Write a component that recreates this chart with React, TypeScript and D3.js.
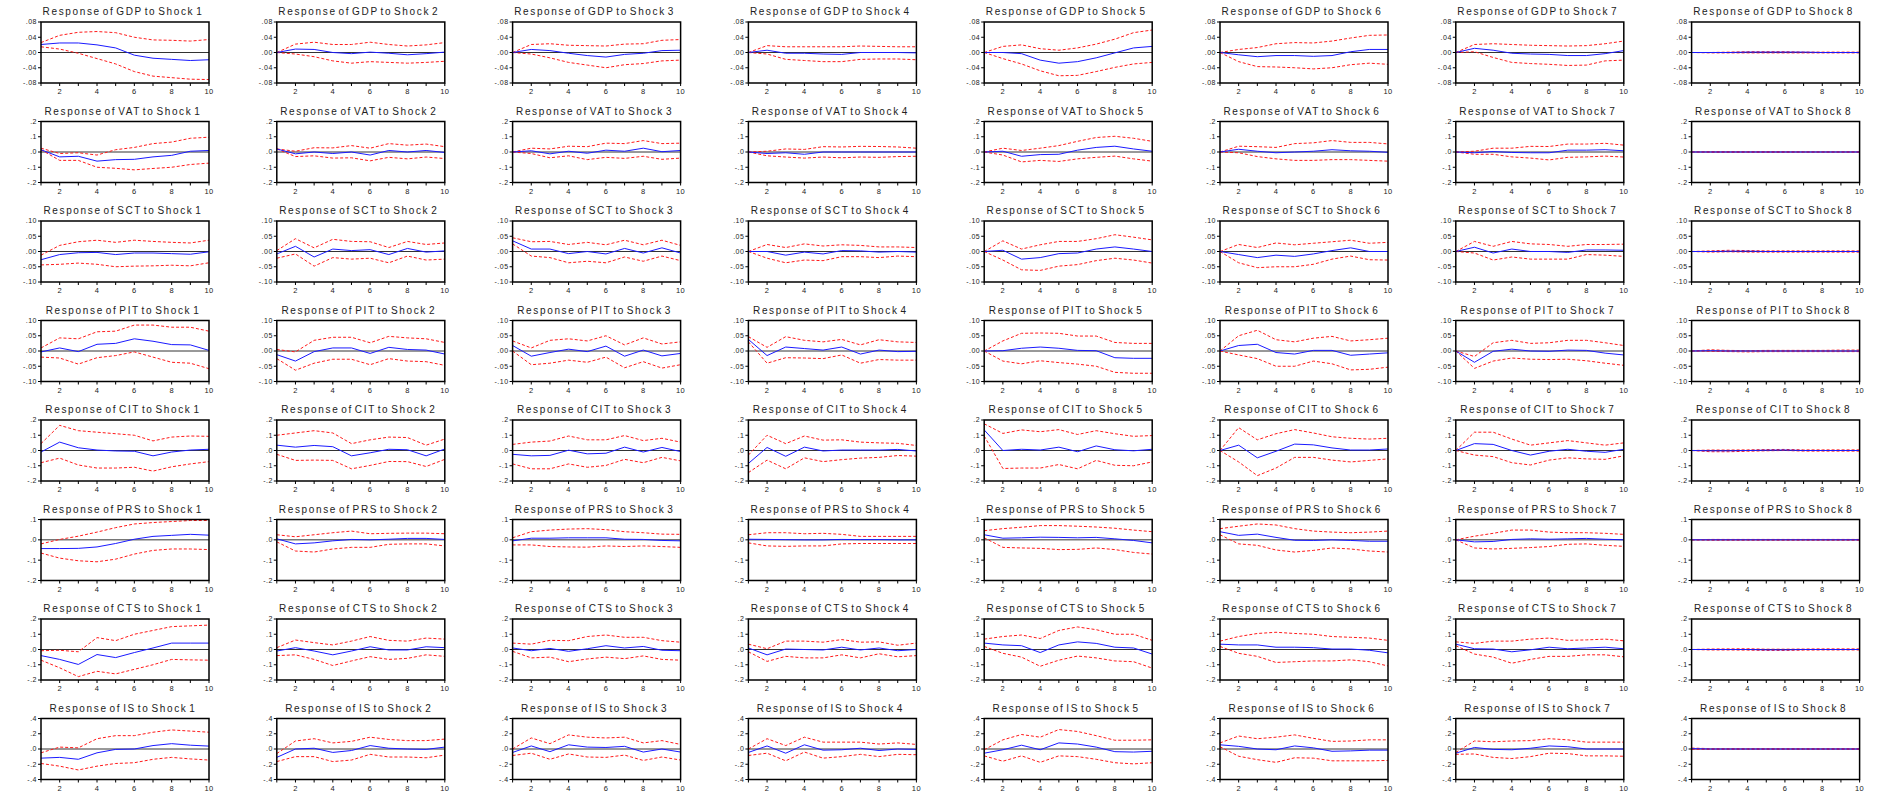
import * as d3 from 'd3';

// impulse horizon
const periods = [1, 2, 3, 4, 5, 6, 7, 8, 9, 10];
const variables = ['GDP', 'VAT', 'SCT', 'PIT', 'CIT', 'PRS', 'CTS', 'IS'];
const shocks = ['Shock 1', 'Shock 2', 'Shock 3', 'Shock 4', 'Shock 5', 'Shock 6', 'Shock 7', 'Shock 8'];

// y tick labels per row (values parsed from them)
const yTickLabels = [
  ['.08', '.04', '.00', '-.04', '-.08'],
  ['.2', '.1', '.0', '-.1', '-.2'],
  ['.10', '.05', '.00', '-.05', '-.10'],
  ['.10', '.05', '.00', '-.05', '-.10'],
  ['.2', '.1', '.0', '-.1', '-.2'],
  ['.1', '.0', '-.1', '-.2'],
  ['.2', '.1', '.0', '-.1', '-.2'],
  ['.4', '.2', '.0', '-.2', '-.4'],
];
const xTickLabels = ['2', '4', '6', '8', '10'];

// ---- GDP ----
const gdpResp = [
  [0.021, 0.025, 0.025, 0.02, 0.012, -0.007, -0.015, -0.018, -0.021, -0.019],
  [0, 0.009, 0.008, 0, -0.003, 0.001, -0.002, -0.006, -0.003, 0.001],
  [0, 0.008, 0.005, -0.002, -0.008, -0.012, -0.005, -0.002, 0.005, 0.006],
  [0, 0.006, -0.002, -0.002, -0.004, -0.005, 0, 0, 0, -0.001],
  [0, 0, -0.003, -0.02, -0.028, -0.024, -0.014, -0.001, 0.012, 0.016],
  [0, -0.006, -0.011, -0.008, -0.008, -0.01, -0.008, 0.002, 0.008, 0.008],
  [0, 0.011, 0.006, -0.002, -0.004, -0.005, -0.008, -0.008, -0.003, 0.005],
  [0, 0, 0, 0.001, 0.001, 0.001, 0.001, 0, 0, 0],
];
const gdpUpper = [
  [0.026, 0.045, 0.053, 0.055, 0.052, 0.04, 0.033, 0.032, 0.03, 0.034],
  [0, 0.022, 0.027, 0.021, 0.021, 0.027, 0.021, 0.017, 0.02, 0.026],
  [0, 0.021, 0.023, 0.019, 0.018, 0.017, 0.022, 0.023, 0.032, 0.034],
  [0, 0.018, 0.015, 0.015, 0.015, 0.015, 0.017, 0.016, 0.015, 0.015],
  [0, 0.016, 0.02, 0.01, 0.006, 0.012, 0.022, 0.035, 0.052, 0.059],
  [0, 0.008, 0.013, 0.023, 0.026, 0.025, 0.03, 0.038, 0.045, 0.046],
  [0, 0.021, 0.023, 0.021, 0.019, 0.018, 0.017, 0.018, 0.023, 0.03],
  [0, 0, 0.001, 0.002, 0.002, 0.002, 0.001, 0.001, 0.001, 0.001],
];
const gdpLower = [
  [0.015, 0.009, -0.002, -0.016, -0.03, -0.05, -0.062, -0.066, -0.07, -0.071],
  [0, -0.004, -0.011, -0.022, -0.028, -0.024, -0.026, -0.028, -0.026, -0.023],
  [0, -0.004, -0.014, -0.026, -0.033, -0.04, -0.032, -0.029, -0.022, -0.02],
  [0, -0.004, -0.018, -0.021, -0.024, -0.024, -0.018, -0.017, -0.017, -0.019],
  [0, -0.016, -0.03, -0.048, -0.061, -0.06, -0.05, -0.039, -0.03, -0.026],
  [0, -0.024, -0.037, -0.038, -0.04, -0.043, -0.04, -0.032, -0.028, -0.031],
  [0, 0.002, -0.013, -0.026, -0.029, -0.031, -0.034, -0.033, -0.022, -0.02],
  [0, -0.001, -0.001, -0.001, -0.001, -0.001, -0.001, -0.001, -0.001, -0.001],
];

// ---- VAT ----
const vatResp = [
  [0.015, -0.032, -0.028, -0.06, -0.05, -0.048, -0.032, -0.022, 0.005, 0.01],
  [0.02, -0.012, 0, -0.01, 0, -0.02, 0.01, 0, 0.01, -0.003],
  [0, 0.008, -0.012, 0.005, -0.008, 0.012, 0.005, 0.025, 0.002, 0.01],
  [0, -0.01, -0.005, -0.015, 0, 0, 0, 0, 0, 0],
  [0, 0.005, -0.028, -0.017, -0.015, 0.012, 0.03, 0.038, 0.02, 0.005],
  [0, 0.018, 0.005, -0.005, 0, 0.005, 0.015, 0.008, 0.005, -0.002],
  [0, -0.005, 0.003, -0.003, -0.005, -0.005, 0.012, 0.012, 0.015, 0.008],
  [0, 0, 0, 0, 0, 0, 0, 0, 0, 0],
];
const vatUpper = [
  [0.025, -0.01, -0.005, -0.02, 0.015, 0.03, 0.055, 0.065, 0.09, 0.097],
  [0.02, 0.005, 0.028, 0.027, 0.042, 0.025, 0.055, 0.045, 0.052, 0.035],
  [0, 0.025, 0.02, 0.038, 0.035, 0.058, 0.055, 0.075, 0.055, 0.058],
  [0, 0.005, 0.02, 0.017, 0.035, 0.033, 0.037, 0.036, 0.033, 0.025],
  [0, 0.025, 0.01, 0.025, 0.042, 0.07, 0.095, 0.103, 0.09, 0.07],
  [0, 0.038, 0.035, 0.03, 0.055, 0.06, 0.075, 0.063, 0.063, 0.053],
  [0, 0.005, 0.025, 0.025, 0.037, 0.036, 0.052, 0.052, 0.057, 0.045],
  [0, 0.003, 0.003, 0.003, 0.003, 0.003, 0.002, 0.002, 0.002, 0.002],
];
const vatLower = [
  [0.015, -0.055, -0.055, -0.1, -0.107, -0.117, -0.108, -0.1, -0.082, -0.073],
  [0.02, -0.03, -0.025, -0.04, -0.038, -0.058, -0.035, -0.045, -0.033, -0.043],
  [0, -0.01, -0.038, -0.025, -0.05, -0.035, -0.042, -0.028, -0.048, -0.04],
  [0, -0.025, -0.033, -0.04, -0.033, -0.038, -0.033, -0.035, -0.03, -0.028],
  [0, -0.02, -0.065, -0.055, -0.062, -0.045, -0.035, -0.027, -0.045, -0.06],
  [0, -0.005, -0.03, -0.045, -0.055, -0.055, -0.05, -0.05, -0.055, -0.06],
  [0, -0.015, -0.015, -0.032, -0.04, -0.052, -0.035, -0.032, -0.027, -0.033],
  [0, -0.003, -0.003, -0.003, -0.003, -0.003, -0.002, -0.002, -0.002, -0.002],
];

// ---- SCT ----
const sctResp = [
  [-0.027, -0.01, -0.004, -0.003, -0.01, -0.005, -0.005, -0.007, -0.009, -0.001],
  [-0.008, 0.017, -0.018, 0.008, 0.003, 0.006, -0.01, 0.01, -0.002, 0.002],
  [0.035, 0.008, 0.008, -0.007, 0, -0.008, 0.01, -0.005, 0.012, -0.005],
  [0, 0, -0.012, -0.002, -0.008, 0.003, 0.002, -0.002, 0, -0.002],
  [0, 0.004, -0.025, -0.02, -0.007, -0.005, 0.008, 0.015, 0.008, 0],
  [0, -0.01, -0.02, -0.012, -0.016, -0.008, 0.003, 0.012, 0, 0],
  [0, 0.014, -0.005, 0.008, 0, 0, -0.003, 0.005, 0.005, 0.004],
  [0, 0, 0.001, 0.001, 0, 0, 0, 0, 0, 0],
];
const sctUpper = [
  [-0.012, 0.02, 0.032, 0.037, 0.03, 0.037, 0.033, 0.03, 0.028, 0.037],
  [0.003, 0.042, 0.012, 0.04, 0.033, 0.032, 0.013, 0.033, 0.023, 0.028],
  [0.045, 0.032, 0.033, 0.023, 0.03, 0.022, 0.037, 0.022, 0.037, 0.02],
  [0, 0.023, 0.013, 0.025, 0.018, 0.022, 0.02, 0.015, 0.015, 0.013],
  [0, 0.035, 0.008, 0.022, 0.033, 0.033, 0.042, 0.055, 0.047, 0.038],
  [0, 0.023, 0.013, 0.028, 0.022, 0.027, 0.032, 0.037, 0.027, 0.03],
  [0, 0.033, 0.017, 0.033, 0.025, 0.023, 0.017, 0.023, 0.023, 0.024],
  [0, 0.002, 0.004, 0.003, 0.002, 0.002, 0.002, 0.002, 0.002, 0.002],
];
const sctLower = [
  [-0.044, -0.042, -0.038, -0.042, -0.05, -0.048, -0.047, -0.045, -0.047, -0.037],
  [-0.022, -0.008, -0.048, -0.02, -0.025, -0.022, -0.037, -0.015, -0.028, -0.025],
  [0.025, -0.015, -0.02, -0.037, -0.032, -0.037, -0.018, -0.032, -0.015, -0.03],
  [0, -0.022, -0.037, -0.028, -0.03, -0.017, -0.017, -0.02, -0.015, -0.017],
  [0, -0.028, -0.06, -0.062, -0.048, -0.043, -0.03, -0.022, -0.028, -0.038],
  [0, -0.037, -0.053, -0.05, -0.05, -0.042, -0.025, -0.015, -0.027, -0.028],
  [0, -0.005, -0.028, -0.018, -0.025, -0.025, -0.025, -0.01, -0.012, -0.016],
  [0, -0.002, -0.001, -0.002, -0.002, -0.002, -0.002, -0.002, -0.002, -0.002],
];

// ---- PIT ----
const pitResp = [
  [-0.003, 0.01, -0.002, 0.022, 0.025, 0.04, 0.032, 0.021, 0.02, 0.002],
  [-0.012, -0.033, -0.002, 0.01, 0.01, -0.008, 0.012, 0.005, 0.003, -0.01],
  [0.018, -0.017, -0.005, 0.006, -0.002, 0.016, -0.017, 0.003, -0.016, -0.008],
  [0.038, -0.015, 0.013, 0.008, 0.003, 0.013, -0.01, 0.003, -0.002, -0.001],
  [0, 0.001, 0.009, 0.013, 0.009, 0.002, 0.001, -0.022, -0.024, -0.024],
  [0, 0.018, 0.022, -0.005, -0.01, 0.002, 0.002, -0.014, -0.01, -0.006],
  [0, -0.037, -0.001, 0.006, 0, -0.001, 0.003, 0.002, -0.007, -0.013],
  [0, 0.001, 0, 0, 0, 0, 0, 0, 0, 0],
];
const pitUpper = [
  [0.01, 0.043, 0.04, 0.063, 0.065, 0.085, 0.085, 0.078, 0.078, 0.065],
  [0.005, -0.003, 0.035, 0.045, 0.045, 0.027, 0.048, 0.043, 0.04, 0.028],
  [0.033, 0.01, 0.035, 0.04, 0.033, 0.05, 0.02, 0.043, 0.023, 0.03],
  [0.047, 0.012, 0.047, 0.035, 0.03, 0.038, 0.02, 0.037, 0.03, 0.028],
  [0, 0.033, 0.058, 0.059, 0.058, 0.049, 0.049, 0.028, 0.025, 0.025],
  [0, 0.05, 0.068, 0.037, 0.03, 0.042, 0.048, 0.033, 0.037, 0.042],
  [0, -0.018, 0.027, 0.035, 0.025, 0.027, 0.035, 0.035, 0.027, 0.018],
  [0, 0.004, 0.002, 0.001, 0.002, 0.002, 0.002, 0.002, 0.003, 0.003],
];
const pitLower = [
  [-0.02, -0.023, -0.043, -0.022, -0.015, -0.003, -0.02, -0.037, -0.04, -0.058],
  [-0.025, -0.063, -0.04, -0.027, -0.027, -0.045, -0.025, -0.033, -0.035, -0.047],
  [0, -0.045, -0.04, -0.03, -0.037, -0.02, -0.055, -0.035, -0.056, -0.045],
  [0.03, -0.04, -0.022, -0.023, -0.025, -0.013, -0.04, -0.028, -0.03, -0.03],
  [0, -0.033, -0.042, -0.032, -0.038, -0.043, -0.05, -0.07, -0.073, -0.073],
  [0, -0.013, -0.025, -0.05, -0.05, -0.033, -0.042, -0.062, -0.06, -0.053],
  [0, -0.057, -0.033, -0.023, -0.027, -0.028, -0.027, -0.032, -0.04, -0.047],
  [0, -0.001, -0.002, -0.003, -0.002, -0.002, -0.002, -0.002, -0.002, -0.002],
];

// ---- CIT ----
const citResp = [
  [-0.01, 0.055, 0.018, 0.003, -0.003, -0.005, -0.035, -0.01, 0.003, 0.008],
  [0.035, 0.022, 0.033, 0.025, -0.035, -0.015, 0.008, 0.005, -0.035, 0.01],
  [-0.025, -0.035, -0.032, 0.002, -0.022, -0.018, 0.022, -0.01, 0.02, -0.007],
  [-0.085, 0.02, -0.038, 0.022, -0.003, 0.003, 0.003, 0.003, 0.007, -0.003],
  [0.135, 0, 0.008, 0.003, 0.022, -0.008, 0.03, 0.005, -0.002, 0.008],
  [0, 0.035, -0.048, -0.005, 0.042, 0.037, 0.017, 0.003, 0.003, 0.01],
  [0, 0.045, 0.04, 0, -0.03, -0.005, 0.008, -0.005, -0.012, 0.008],
  [0, -0.002, -0.002, 0, 0.002, 0.003, 0, 0, 0, 0],
];
const citUpper = [
  [0.045, 0.165, 0.13, 0.12, 0.11, 0.1, 0.063, 0.088, 0.095, 0.093],
  [0.1, 0.115, 0.13, 0.115, 0.045, 0.07, 0.088, 0.085, 0.035, 0.075],
  [0.04, 0.055, 0.062, 0.095, 0.07, 0.07, 0.098, 0.065, 0.08, 0.055],
  [-0.03, 0.1, 0.045, 0.095, 0.068, 0.07, 0.055, 0.05, 0.047, 0.033],
  [0.175, 0.112, 0.135, 0.123, 0.137, 0.105, 0.13, 0.11, 0.093, 0.098],
  [0, 0.15, 0.07, 0.11, 0.137, 0.115, 0.09, 0.08, 0.075, 0.08],
  [0, 0.12, 0.12, 0.075, 0.035, 0.05, 0.065, 0.05, 0.035, 0.05],
  [0, 0.003, 0.003, 0.004, 0.006, 0.007, 0.004, 0.004, 0.004, 0.004],
];
const citLower = [
  [-0.08, -0.05, -0.095, -0.115, -0.115, -0.11, -0.135, -0.107, -0.088, -0.073],
  [-0.025, -0.065, -0.063, -0.065, -0.12, -0.098, -0.072, -0.073, -0.105, -0.058],
  [-0.088, -0.12, -0.12, -0.088, -0.11, -0.098, -0.058, -0.08, -0.045, -0.068],
  [-0.145, -0.063, -0.12, -0.048, -0.073, -0.06, -0.05, -0.045, -0.033, -0.037],
  [0.095, -0.118, -0.115, -0.115, -0.092, -0.12, -0.065, -0.097, -0.1, -0.075],
  [0, -0.075, -0.165, -0.115, -0.045, -0.045, -0.063, -0.075, -0.065, -0.055],
  [0, -0.03, -0.04, -0.08, -0.095, -0.063, -0.048, -0.055, -0.058, -0.035],
  [0, -0.008, -0.008, -0.005, -0.002, 0, -0.004, -0.004, -0.004, -0.004],
];

// ---- PRS ----
const prsResp = [
  [-0.043, -0.043, -0.042, -0.035, -0.018, 0.003, 0.017, 0.022, 0.027, 0.023],
  [0.005, -0.02, -0.015, -0.005, 0.002, 0, 0.003, 0.007, 0.007, 0.002],
  [-0.005, 0.008, 0.008, 0.01, 0.01, 0.01, 0.003, 0.002, -0.003, -0.005],
  [0.003, 0.002, 0.001, 0, 0, 0.002, 0.001, 0.001, 0, 0],
  [0.025, 0.008, 0.01, 0.013, 0.012, 0.01, 0.012, 0.005, -0.003, -0.015],
  [0.04, 0.022, 0.028, 0.012, -0.002, -0.003, 0, -0.003, -0.007, -0.007],
  [0, -0.01, -0.008, 0.002, 0.005, 0.003, 0.005, 0.007, 0.003, 0],
  [0, 0, 0, 0, 0, 0, 0, 0, 0, 0],
];
const prsUpper = [
  [-0.02, 0.002, 0.018, 0.038, 0.06, 0.078, 0.085, 0.09, 0.095, 0.095],
  [0.025, 0.015, 0.025, 0.035, 0.043, 0.03, 0.032, 0.033, 0.033, 0.03],
  [0.01, 0.04, 0.048, 0.053, 0.055, 0.05, 0.04, 0.035, 0.028, 0.027],
  [0.025, 0.035, 0.035, 0.03, 0.032, 0.027, 0.017, 0.017, 0.017, 0.017],
  [0.045, 0.055, 0.062, 0.07, 0.07, 0.067, 0.063, 0.057, 0.048, 0.04],
  [0.055, 0.067, 0.078, 0.073, 0.055, 0.043, 0.038, 0.035, 0.038, 0.043],
  [0, 0.018, 0.032, 0.048, 0.048, 0.038, 0.035, 0.035, 0.032, 0.027],
  [0, 0.002, 0.002, 0.002, 0.002, 0.002, 0.002, 0.002, 0.002, 0.002],
];
const prsLower = [
  [-0.065, -0.09, -0.103, -0.108, -0.095, -0.07, -0.052, -0.045, -0.045, -0.048],
  [-0.01, -0.055, -0.06, -0.045, -0.037, -0.037, -0.022, -0.02, -0.02, -0.03],
  [-0.025, -0.025, -0.033, -0.035, -0.036, -0.03, -0.033, -0.03, -0.033, -0.037],
  [-0.015, -0.03, -0.032, -0.03, -0.03, -0.02, -0.018, -0.018, -0.018, -0.018],
  [0.01, -0.037, -0.04, -0.042, -0.048, -0.047, -0.04, -0.048, -0.062, -0.07],
  [0.025, -0.02, -0.027, -0.05, -0.06, -0.052, -0.04, -0.045, -0.055, -0.06],
  [0, -0.04, -0.045, -0.042, -0.038, -0.033, -0.022, -0.02, -0.027, -0.032],
  [0, -0.002, -0.002, -0.002, -0.002, -0.002, -0.002, -0.002, -0.002, -0.002],
];

// ---- CTS ----
const ctsResp = [
  [-0.04, -0.065, -0.098, -0.033, -0.053, -0.02, 0.01, 0.042, 0.042, 0.042],
  [-0.01, 0.012, -0.01, -0.035, -0.01, 0.018, -0.003, -0.003, 0.018, 0.012],
  [0.01, -0.008, 0.007, -0.012, 0.005, 0.025, 0.01, 0.02, -0.005, -0.008],
  [0.01, -0.035, 0.003, 0, -0.003, 0.015, -0.003, 0.01, -0.008, 0],
  [0.042, 0.03, 0.025, -0.02, 0.03, 0.05, 0.04, 0.015, 0.01, -0.03],
  [0.035, 0.03, 0.03, 0.015, 0.015, 0.012, 0.003, 0.003, -0.005, -0.022],
  [0.035, 0.005, 0.003, -0.015, -0.002, 0.015, 0.005, 0.01, 0.015, 0.005],
  [0, 0, 0, 0, -0.002, -0.002, 0, 0, 0, 0],
];
const ctsUpper = [
  [-0.008, -0.005, -0.015, 0.078, 0.058, 0.1, 0.125, 0.15, 0.155, 0.16],
  [0.012, 0.062, 0.045, 0.03, 0.055, 0.085, 0.06, 0.055, 0.075, 0.068],
  [0.042, 0.035, 0.06, 0.058, 0.085, 0.095, 0.08, 0.08, 0.058, 0.048],
  [0.035, 0.005, 0.055, 0.055, 0.048, 0.065, 0.048, 0.05, 0.028, 0.042],
  [0.068, 0.085, 0.095, 0.072, 0.125, 0.148, 0.13, 0.1, 0.1, 0.06],
  [0.055, 0.085, 0.105, 0.113, 0.105, 0.1, 0.085, 0.08, 0.075, 0.06],
  [0.05, 0.04, 0.055, 0.055, 0.068, 0.075, 0.06, 0.063, 0.068, 0.057],
  [0, 0.003, 0.004, 0.005, 0.002, 0.002, 0.003, 0.004, 0.004, 0.004],
];
const ctsLower = [
  [-0.07, -0.12, -0.178, -0.143, -0.16, -0.13, -0.1, -0.065, -0.068, -0.07],
  [-0.04, -0.035, -0.065, -0.105, -0.075, -0.047, -0.065, -0.058, -0.035, -0.045],
  [-0.012, -0.055, -0.05, -0.08, -0.062, -0.05, -0.06, -0.042, -0.065, -0.07],
  [-0.015, -0.078, -0.045, -0.055, -0.055, -0.035, -0.055, -0.028, -0.048, -0.04],
  [0.02, -0.025, -0.05, -0.11, -0.07, -0.043, -0.055, -0.075, -0.08, -0.122],
  [0.02, -0.025, -0.045, -0.085, -0.08, -0.075, -0.075, -0.068, -0.08, -0.108],
  [0.025, -0.03, -0.05, -0.09, -0.065, -0.045, -0.045, -0.035, -0.035, -0.048],
  [0, -0.003, -0.003, -0.004, -0.006, -0.006, -0.004, -0.003, -0.003, -0.003],
];

// ---- IS ----
const isResp = [
  [-0.12, -0.11, -0.135, -0.05, -0.005, 0, 0.045, 0.07, 0.05, 0.038],
  [-0.11, 0, 0.01, -0.045, -0.02, 0.045, 0.01, 0, -0.005, 0.025],
  [-0.045, 0.04, -0.035, 0.055, 0.025, 0.02, 0.035, -0.04, 0, -0.04],
  [-0.045, 0.04, -0.055, 0.055, -0.015, -0.01, 0.01, -0.02, 0, -0.005],
  [-0.055, -0.01, 0.05, -0.01, 0.08, 0.065, 0.025, -0.035, -0.04, -0.03],
  [0.055, 0.035, 0, -0.01, 0.04, 0.015, -0.03, -0.025, -0.015, -0.015],
  [-0.055, 0.02, -0.005, -0.01, 0.01, 0.04, 0.03, 0, 0, 0],
  [0.005, 0, 0, 0, 0, 0, 0, 0, 0, 0],
];
const isUpper = [
  [-0.05, 0.025, 0.015, 0.135, 0.175, 0.175, 0.22, 0.25, 0.235, 0.22],
  [-0.06, 0.105, 0.135, 0.08, 0.1, 0.155, 0.125, 0.11, 0.11, 0.13],
  [0, 0.145, 0.07, 0.185, 0.155, 0.145, 0.155, 0.08, 0.11, 0.06],
  [0, 0.135, 0.045, 0.155, 0.09, 0.09, 0.09, 0.065, 0.08, 0.06],
  [-0.01, 0.12, 0.19, 0.155, 0.255, 0.23, 0.175, 0.115, 0.115, 0.12],
  [0.08, 0.17, 0.135, 0.155, 0.185, 0.14, 0.1, 0.105, 0.12, 0.12],
  [-0.045, 0.105, 0.095, 0.105, 0.11, 0.135, 0.12, 0.09, 0.09, 0.09],
  [0.012, 0.005, 0.006, 0.006, 0.006, 0.006, 0.006, 0.006, 0.006, 0.006],
];
const isLower = [
  [-0.19, -0.225, -0.275, -0.225, -0.19, -0.18, -0.135, -0.11, -0.13, -0.145],
  [-0.165, -0.1, -0.1, -0.165, -0.145, -0.07, -0.105, -0.105, -0.115, -0.08],
  [-0.085, -0.055, -0.135, -0.065, -0.105, -0.11, -0.08, -0.15, -0.105, -0.145],
  [-0.085, -0.055, -0.155, -0.04, -0.12, -0.1, -0.07, -0.1, -0.07, -0.075],
  [-0.09, -0.16, -0.09, -0.175, -0.09, -0.1, -0.135, -0.18, -0.195, -0.18],
  [0.03, -0.095, -0.14, -0.175, -0.115, -0.12, -0.155, -0.155, -0.155, -0.15],
  [-0.07, -0.065, -0.11, -0.125, -0.1, -0.055, -0.06, -0.09, -0.09, -0.095],
  [-0.004, -0.006, -0.006, -0.006, -0.006, -0.006, -0.006, -0.006, -0.006, -0.006],
];

const responses = [gdpResp, vatResp, sctResp, pitResp, citResp, prsResp, ctsResp, isResp];
const uppers = [gdpUpper, vatUpper, sctUpper, pitUpper, citUpper, prsUpper, ctsUpper, isUpper];
const lowers = [gdpLower, vatLower, sctLower, pitLower, citLower, prsLower, ctsLower, isLower];

const W = 1877;
const H = 792;
const colX0 = 41;
const colStep = 235.8;
const rowY0 = 22;
const rowStep = 99.5;
const pw = 168;
const ph = 61;
const font = 'Arial, "Liberation Sans", sans-serif';

function Panel({ r, c }: { r: number; c: number }) {
  const x0 = colX0 + c * colStep;
  const y0 = rowY0 + r * rowStep;
  const ticks = yTickLabels[r].map(t => parseFloat(t));
  const x = d3.scaleLinear().domain([1, 10]).range([0, pw]);
  const y = d3.scaleLinear().domain([d3.min(ticks)!, d3.max(ticks)!]).range([ph, 0]);
  const line = d3.line<number>().x((_, i) => x(periods[i])).y(d => y(d));

  return (
    <g transform={`translate(${x0},${y0})`}>
      <text
        x={pw / 2 - 2}
        y={-7}
        textAnchor="middle"
        fontSize={10}
        letterSpacing={1.65}
        wordSpacing={-2.5}
        fill="#222"
        fontFamily={font}
      >
        {`Response of ${variables[r]} to ${shocks[c]}`}
      </text>
      {/* zero line */}
      <line x1={0} x2={pw} y1={y(0)} y2={y(0)} stroke="#333" strokeWidth={1} />
      {/* bands and response */}
      <path d={line(uppers[r][c])!} fill="none" stroke="#ff1a1a" strokeWidth={1} strokeDasharray="3,2" />
      <path d={line(lowers[r][c])!} fill="none" stroke="#ff1a1a" strokeWidth={1} strokeDasharray="3,2" />
      <path d={line(responses[r][c])!} fill="none" stroke="#1a1aff" strokeWidth={1} />
      {/* frame */}
      <rect x={0} y={0} width={pw} height={ph} fill="none" stroke="#000" strokeWidth={1.5} />
      {/* y axis */}
      {yTickLabels[r].map((lab, i) => (
        <g key={lab}>
          <line x1={-3} x2={0} y1={y(ticks[i])} y2={y(ticks[i])} stroke="#000" />
          <text
            x={-4}
            y={y(ticks[i])}
            dy="0.35em"
            textAnchor="end"
            fontSize={7}
            letterSpacing={0.5}
            fill="#222"
            fontFamily={font}
          >
            {lab}
          </text>
        </g>
      ))}
      {/* x axis */}
      {periods.map(p => (
        <line key={p} x1={x(p)} x2={x(p)} y1={ph} y2={ph + 3} stroke="#000" />
      ))}
      {xTickLabels.map(lab => (
        <text
          key={lab}
          x={x(+lab)}
          y={ph + 11}
          textAnchor="middle"
          fontSize={7.5}
          letterSpacing={0.4}
          fill="#222"
          fontFamily={font}
        >
          {lab}
        </text>
      ))}
    </g>
  );
}

export default function App() {
  return (
    <svg
      width={W}
      height={H}
      style={{ position: 'absolute', left: 0, top: 0, background: '#fff' }}
    >
      {variables.map((_, r) =>
        shocks.map((_, c) => <Panel key={`${r}-${c}`} r={r} c={c} />)
      )}
    </svg>
  );
}
